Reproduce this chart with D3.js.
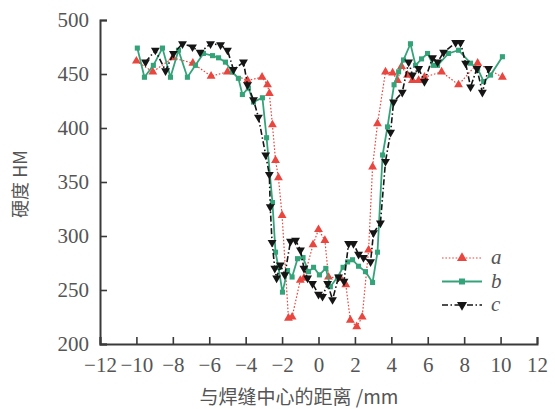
<!DOCTYPE html>
<html>
<head>
<meta charset="utf-8">
<script src="https://cdn.jsdelivr.net/npm/d3@7"></script>
<style>
  body { margin: 0; background: #fff; }
  svg { display: block; }
</style>
</head>
<body>
<svg id="chart" width="555" height="409"></svg>
<script>
// distance from weld centre (mm) and hardness (HM)
const aX = [-10, -9.1, -8, -6.9, -5.9, -5, -3.9, -3.1, -2.8, -2.7, -2.53, -2.36, -2.2, -2.0, -1.65, -1.45, -1.0, -0.8, -0.3, 0, 0.35, 0.55, 1.2, 1.5, 1.75, 2.1, 2.4, 2.75, 2.97, 3.24, 3.68, 4.07, 4.34, 4.56, 4.89, 5.16, 5.5, 5.82, 6.76, 7.69, 8.74, 10.1];
const aY = [462, 452, 465, 460, 448, 452, 444, 447, 440, 432, 403, 370, 354, 319, 224, 225, 259, 261, 292, 306, 296, 262, 261, 255, 222, 216, 225, 287, 364, 404, 452, 451, 444, 457, 449, 444, 444, 447, 452, 440, 460, 447];

const bX = [-9.95, -9.56, -9.07, -8.57, -8.13, -7.69, -7.2, -6.76, -6.32, -5.82, -5.49, -5.11, -4.73, -4.4, -4.18, -3.85, -3.57, -3.08, -2.85, -2.53, -2.36, -2.2, -1.98, -1.7, -1.45, -1.15, -0.85, -0.55, -0.27, 0.05, 0.4, 0.65, 1.05, 1.35, 1.6, 1.87, 2.2, 2.58, 2.97, 3.24, 3.52, 3.79, 4.15, 4.4, 4.67, 5.05, 5.33, 5.66, 5.99, 6.3, 6.54, 7.14, 7.69, 8.35, 8.74, 9.07, 9.45, 10.1];
const bY = [474, 447, 458, 474, 447, 472, 447, 458, 469, 467, 465, 461, 452, 446, 431, 437, 424, 428, 391, 331, 285, 271, 248, 268, 262, 279, 280, 267, 271, 264, 270, 253, 262, 271, 276, 278, 272, 267, 257, 285, 375, 401, 440, 452, 463, 478, 458, 464, 469, 458, 458, 469, 472, 460, 455, 443, 449, 466];

const cX = [-9.5, -8.96, -8.4, -7.97, -7.47, -6.92, -6.5, -5.93, -5.38, -5.0, -4.67, -4.12, -3.9, -3.57, -3.3, -2.9, -2.7, -2.65, -2.55, -2.4, -2.3, -2.1, -1.85, -1.54, -1.26, -0.99, -0.8, -0.6, -0.33, 0, 0.22, 0.5, 0.77, 1.1, 1.4, 1.65, 1.92, 2.2, 2.47, 2.86, 3.02, 3.4, 3.68, 3.96, 4.12, 4.6, 4.95, 5.16, 5.5, 5.82, 6.26, 6.54, 6.87, 7.53, 7.8, 8.08, 8.35, 8.7, 9.0, 9.34];
const cY = [461, 472, 453, 469, 478, 475, 470, 478, 477, 472, 454, 461, 440, 426, 410, 375, 357, 327, 294, 270, 261, 273, 264, 295, 296, 287, 270, 261, 256, 246, 244, 256, 241, 262, 258, 293, 293, 283, 280, 276, 303, 312, 369, 396, 424, 433, 461, 449, 455, 443, 465, 461, 470, 479, 479, 460, 438, 455, 433, 455];

const xTicks = [-12, -10, -8, -6, -4, -2, 0, 2, 4, 6, 8, 10, 12];
const yTicks = [200, 250, 300, 350, 400, 450, 500];
const seriesNames = ["a", "b", "c"];

const svg = d3.select("#chart");
const margin = {left: 100, right: 18, top: 20, bottom: 65};
const W = 555, H = 409;

const x = d3.scaleLinear().domain([-12, 12]).range([margin.left, W - margin.right]);
const y = d3.scaleLinear().domain([200, 500]).range([H - margin.bottom, margin.top]);

const axisColor = "#3a3a3a";
const textColor = "#555";
const serif = "Liberation Serif, Times New Roman, DejaVu Serif, serif";

// axes, ticks pointing inward
const xAxis = svg.append("g")
    .attr("transform", `translate(0,${y(200)})`)
    .call(d3.axisBottom(x).tickValues(xTicks).tickSize(-7).tickPadding(13)
        .tickFormat(d => d < 0 ? "\u2212" + Math.abs(d) : d));
const yAxis = svg.append("g")
    .attr("transform", `translate(${x(-12)},0)`)
    .call(d3.axisLeft(y).tickValues(yTicks).tickSize(-7).tickPadding(11));

[xAxis, yAxis].forEach(g => {
    g.attr("font-family", serif).attr("font-size", 21);
    g.select(".domain").attr("stroke", axisColor).attr("stroke-width", 2);
    g.selectAll(".tick line").attr("stroke", axisColor).attr("stroke-width", 1.6);
    g.selectAll(".tick text").attr("fill", textColor);
});

svg.append("text")
    .attr("transform", `translate(27,${(y(200) + y(500)) / 2 + 2}) rotate(-90)`)
    .attr("text-anchor", "middle")
    .attr("fill", textColor)
    .attr("font-family", "Noto Sans CJK SC")
    .attr("font-size", 18)
    .text("硬度 HM");

svg.append("text")
    .attr("x", 299)
    .attr("y", 404)
    .attr("text-anchor", "middle")
    .attr("fill", textColor)
    .attr("font-family", "Noto Sans CJK SC")
    .attr("font-size", 19)
    .text("与焊缝中心的距离 /mm");

const styles = {
    a: {color: "#e8463f", dash: "1.6,1.8", width: 1.2, sym: d3.symbolTriangle, size: 34, rot: 0},
    b: {color: "#35a37a", dash: null, width: 1.8, sym: d3.symbolSquare, size: 26, rot: 0},
    c: {color: "#151515", dash: "6,2.5,1.5,2.5", width: 1.6, sym: d3.symbolTriangle, size: 34, rot: 180}
};

const series = [
    {name: "a", xs: aX, ys: aY},
    {name: "b", xs: bX, ys: bY},
    {name: "c", xs: cX, ys: cY}
];

const line = d3.line().x(d => x(d[0])).y(d => y(d[1]));

series.forEach(s => {
    const st = styles[s.name];
    const pts = s.xs.map((v, i) => [v, s.ys[i]]);
    const g = svg.append("g");
    g.append("path")
        .datum(pts)
        .attr("d", line)
        .attr("fill", "none")
        .attr("stroke", st.color)
        .attr("stroke-width", st.width)
        .attr("stroke-dasharray", st.dash);
    g.selectAll("path.pt")
        .data(pts)
        .join("path")
        .attr("class", "pt")
        .attr("d", d3.symbol().type(st.sym).size(st.size))
        .attr("transform", d => `translate(${x(d[0])},${y(d[1])}) rotate(${st.rot})`)
        .attr("fill", st.color);
});

// legend
const legend = svg.append("g").attr("transform", "translate(442,258)");
seriesNames.forEach((n, i) => {
    const st = styles[n];
    const row = legend.append("g").attr("transform", `translate(0,${i * 23.5})`);
    row.append("line")
        .attr("x1", 0).attr("x2", 40)
        .attr("stroke", st.color)
        .attr("stroke-width", st.width)
        .attr("stroke-dasharray", st.dash);
    row.append("path")
        .attr("d", d3.symbol().type(st.sym).size(st.size + 10))
        .attr("transform", `translate(20,0) rotate(${st.rot})`)
        .attr("fill", st.color);
    row.append("text")
        .attr("x", 49).attr("y", 6)
        .attr("fill", textColor)
        .attr("font-family", serif)
        .attr("font-style", "italic")
        .attr("font-size", 21)
        .text(n);
});
</script>
</body>
</html>
